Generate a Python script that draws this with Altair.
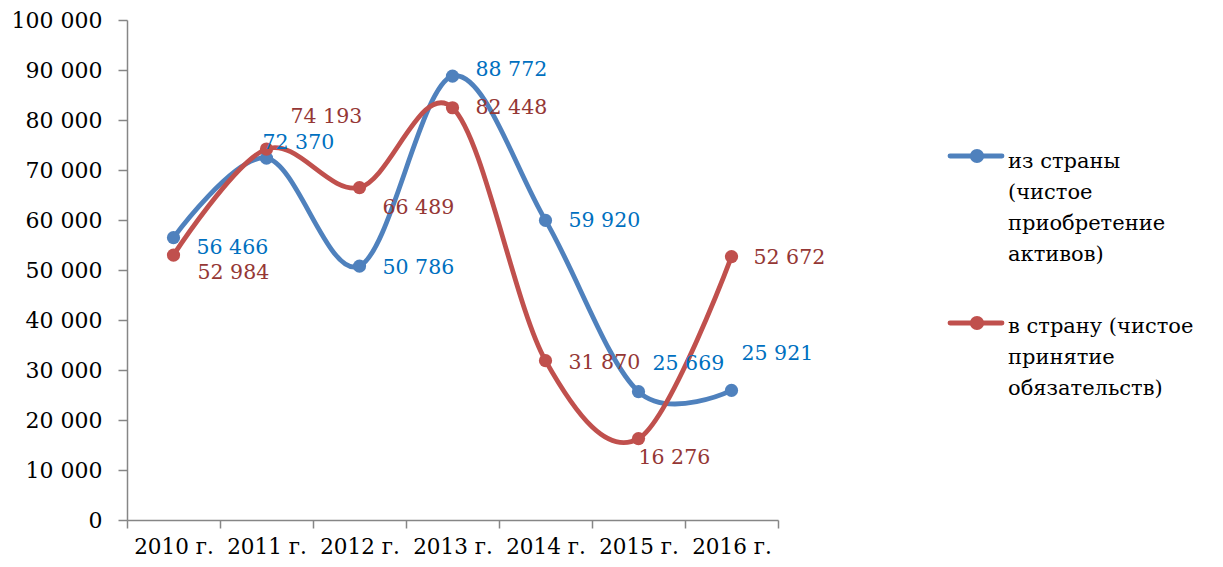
import altair as alt
import pandas as pd

years = ["2010 г.", "2011 г.", "2012 г.", "2013 г.", "2014 г.", "2015 г.", "2016 г."]
series_names = ["из страны (чистое приобретение активов)", "в страну (чистое принятие обязательств)"]
legend_lines = [["из страны", "(чистое", "приобретение", "активов)"],
                ["в страну (чистое", "принятие", "обязательств)"]]
out_values = [56466, 72370, 50786, 88772, 59920, 25669, 25921]
in_values = [52984, 74193, 66489, 82448, 31870, 16276, 52672]
y_ticks = [0, 10000, 20000, 30000, 40000, 50000, 60000, 70000, 80000, 90000, 100000]

line_colors = ["#4F81BD", "#C0504D"]
text_colors = ["#0070C0", "#953735"]
FONT = "DejaVu Serif"

rows = []
for s, vals in zip(series_names, [out_values, in_values]):
    for y, v in zip(years, vals):
        rows.append({"series": s, "year": y, "value": v,
                     "label": f"{v:,}".replace(",", " ")})
df = pd.DataFrame(rows)

# label offsets (style): (dx, dy) per series/year
offsets = {
    series_names[0]: [(23, 10), (-4, -15), (23, 2), (23, -6), (23, 1), (14, -28), (10, -36)],
    series_names[1]: [(24, 18), (24, -32), (23, 20), (23, 0), (23, 2), (0, 19), (22, 1)],
}

x_enc = alt.X("year:N", sort=years, bandPosition=0.5,
              scale=alt.Scale(type="band", paddingInner=0, paddingOuter=0),
              axis=alt.Axis(title=None, tickBand="extent", labelAngle=0,
                            labelFont=FONT, labelFontSize=21.5, labelColor="#000000",
                            domainColor="#868686", domainWidth=1.5,
                            tickColor="#868686", tickWidth=1.5, tickSize=8,
                            labelPadding=8))
y_enc = alt.Y("value:Q",
              scale=alt.Scale(domain=[0, 100000], nice=False),
              axis=alt.Axis(title=None, values=y_ticks, grid=False,
                            labelExpr="replace(format(datum.value, ','), ',', ' ')",
                            labelFont=FONT, labelFontSize=22, labelColor="#000000",
                            domainColor="#868686", domainWidth=1.5,
                            tickColor="#868686", tickWidth=1.5, tickSize=9,
                            labelPadding=16))
color_scale = alt.Scale(domain=series_names, range=line_colors)

base = alt.Chart(df)

lines = base.mark_line(interpolate="cardinal", strokeWidth=4.8).encode(
    x=x_enc, y=y_enc, color=alt.Color("series:N", scale=color_scale, legend=None))
points = base.mark_circle(size=175, opacity=1).encode(
    x=x_enc, y=y_enc, color=alt.Color("series:N", scale=color_scale, legend=None))

layers = [lines, points]
for si, s in enumerate(series_names):
    for yi, yr in enumerate(years):
        dx, dy = offsets[s][yi]
        layers.append(
            base.transform_filter((alt.datum.series == s) & (alt.datum.year == yr))
            .mark_text(align="left", baseline="middle", dx=dx, dy=dy,
                       font=FONT, fontSize=20.5, color=text_colors[si])
            .encode(x=x_enc, y=y_enc, text="label:N")
        )

# manual legend (positions in plot-area pixels)
one = alt.Chart(pd.DataFrame({"k": [0]}))
legend_sym_y = [136, 303]
legend_first_baseline = [148, 313]
LH = 31
for si in range(2):
    yy = legend_sym_y[si]
    layers.append(one.mark_rule(color=line_colors[si], strokeWidth=4.8, strokeCap="round").encode(
        x=alt.value(823), x2=alt.value(875), y=alt.value(yy)))
    layers.append(one.mark_circle(color=line_colors[si], size=200, opacity=1).encode(
        x=alt.value(850), y=alt.value(yy)))
    for li, txt in enumerate(legend_lines[si]):
        layers.append(one.mark_text(align="left", baseline="alphabetic", font=FONT,
                                    fontSize=21, color="#000000").encode(
            x=alt.value(881), y=alt.value(legend_first_baseline[si] + li * LH),
            text=alt.value(txt)))

chart = alt.layer(*layers).properties(
    width=651, height=500,
    autosize=alt.AutoSizeParams(type="none"),
    padding={"left": 119, "top": 12, "right": 437, "bottom": 39},
).configure_view(stroke=None)

chart.save("out.html", embed_options={"renderer": "svg", "actions": False})
